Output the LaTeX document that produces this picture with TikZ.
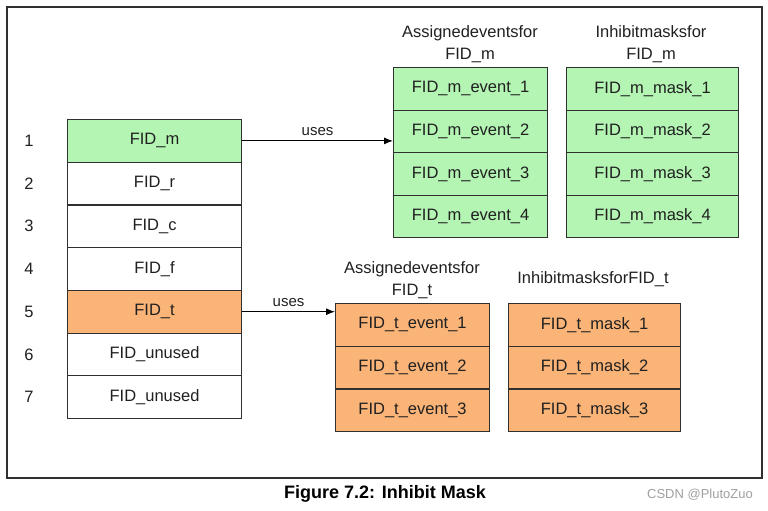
\documentclass[tikz,border=0pt]{standalone}
\usepackage{fontspec}
\setmainfont{Liberation Sans}
\usetikzlibrary{arrows.meta}
\definecolor{cellgreen}{HTML}{B4F5B4}
\definecolor{cellorange}{HTML}{FAB478}
\definecolor{edgecol}{HTML}{303030}
\definecolor{txtcol}{HTML}{202020}
\begin{document}
\begin{tikzpicture}[x=1pt,y=-1pt,
  cell/.style={draw=edgecol, line width=1.1pt, minimum height=42.7pt, inner sep=0pt,
    anchor=north west, text=txtcol, font=\fontsize{16.5}{19}\selectfont},
  idcell/.style={cell, minimum width=174pt},
  evcell/.style={cell, minimum width=154pt},
  mkcell/.style={cell, minimum width=172pt},
  numlbl/.style={text=txtcol, font=\fontsize{16.5}{19}\selectfont},
  header/.style={text=txtcol, align=center, font=\fontsize{16.5}{22}\selectfont},
  useslbl/.style={text=txtcol, font=\fontsize{15}{17}\selectfont},
  conn/.style={draw=black, line width=1pt, -{Latex[length=9pt,width=7pt]}}
]
\useasboundingbox (0,0) rectangle (768,511);
\draw[draw=edgecol, line width=1.3pt] (7,7) rectangle (762,478);

% left table
\node[idcell, fill=cellgreen]  (r1) at (67,119.0) {FID\_m};
\node[idcell, fill=white]      (r2) at (67,161.7) {FID\_r};
\node[idcell, fill=white]      (r3) at (67,204.4) {FID\_c};
\node[idcell, fill=white]      (r4) at (67,247.1) {FID\_f};
\node[idcell, fill=cellorange] (r5) at (67,289.8) {FID\_t};
\node[idcell, fill=white]      (r6) at (67,332.5) {FID\_unused};
\node[idcell, fill=white]      (r7) at (67,375.2) {FID\_unused};

\foreach \i in {1,...,7} {
  \node[numlbl] (n\i) at (29,0 |- r\i.center) {\i};
}

% FID_m tables
\node[header] (hme) at (470,44) {Assignedeventsfor\\FID\_m};
\node[header] (hmm) at (651,44) {Inhibitmasksfor\\FID\_m};
\node[evcell, fill=cellgreen] (me1) at (393,67.0)  {FID\_m\_event\_1};
\node[evcell, fill=cellgreen] (me2) at (393,109.5) {FID\_m\_event\_2};
\node[evcell, fill=cellgreen] (me3) at (393,152.0) {FID\_m\_event\_3};
\node[evcell, fill=cellgreen] (me4) at (393,194.5) {FID\_m\_event\_4};
\node[mkcell, fill=cellgreen] (mm1) at (566,67.0)  {FID\_m\_mask\_1};
\node[mkcell, fill=cellgreen] (mm2) at (566,109.5) {FID\_m\_mask\_2};
\node[mkcell, fill=cellgreen] (mm3) at (566,152.0) {FID\_m\_mask\_3};
\node[mkcell, fill=cellgreen] (mm4) at (566,194.5) {FID\_m\_mask\_4};

% FID_t tables
\node[header] (hte) at (412,280) {Assignedeventsfor\\FID\_t};
\node[header] (htm) at (593,279) {InhibitmasksforFID\_t};
\node[evcell, fill=cellorange] (te1) at (335,303.0) {FID\_t\_event\_1};
\node[evcell, fill=cellorange] (te2) at (335,345.7) {FID\_t\_event\_2};
\node[evcell, fill=cellorange] (te3) at (335,388.4) {FID\_t\_event\_3};
\node[mkcell, fill=cellorange] (tm1) at (508,303.0) {FID\_t\_mask\_1};
\node[mkcell, fill=cellorange] (tm2) at (508,345.7) {FID\_t\_mask\_2};
\node[mkcell, fill=cellorange] (tm3) at (508,388.4) {FID\_t\_mask\_3};

% connectors
\draw[conn] (r1.east) -- node[useslbl, above=1pt, pos=0.5] (u1) {uses} (r1.east -| me2.west);
\draw[conn] (r5.east) -- node[useslbl, above=1pt, pos=0.5] (u2) {uses} (r5.east -| te1.west);

% caption
\node[text=black, font=\bfseries\fontsize{18}{20}\selectfont] (cap) at (385,494) {Figure 7.2: Inhibit Mask};
\node[text=gray!75, font=\fontsize{13}{15}\selectfont] (wm) at (700,495) {CSDN @PlutoZuo};
\end{tikzpicture}
\end{document}
